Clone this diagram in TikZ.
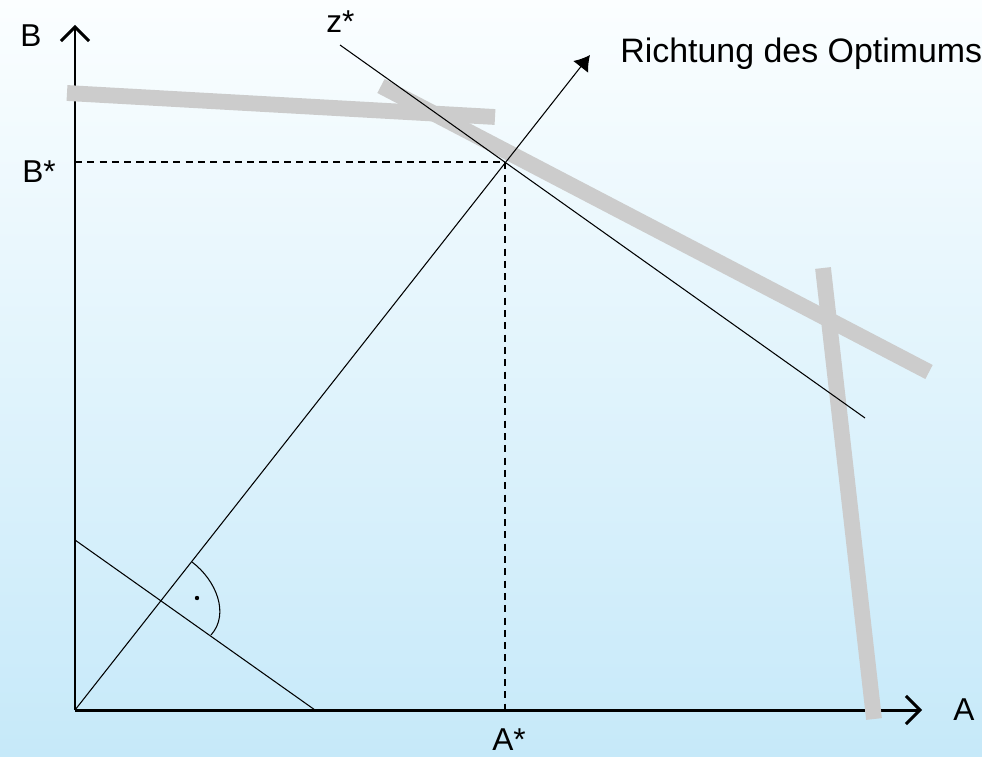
\documentclass[tikz,border=0pt]{standalone}
\usepackage{fontspec}
\setmainfont{Liberation Sans}
\definecolor{BarGray}{HTML}{CCCCCC}
\definecolor{SkyTop}{HTML}{FBFEFF}
\definecolor{SkyBottom}{HTML}{C6E9F9}
\usetikzlibrary{arrows.meta,positioning,calc}
\tikzset{
  axisline/.style={line width=1.7pt, -{Straight Barb[length=2.8mm, width=5.6mm]}},
  helpline/.style={line width=0.6pt, dash pattern=on 4pt off 3pt},
  bar/.style={draw=BarGray, line width=9pt},
  thinline/.style={line width=0.6pt},
  optarrow/.style={line width=0.6pt, -{Latex[length=3mm, width=3.8mm]}},
  lbl/.style={inner sep=0pt, font=\fontsize{18}{22}\selectfont}
}

\begin{document}
\begin{tikzpicture}[x=0.02cm, y=-0.02cm]
% background
\shade[top color=SkyTop, bottom color=SkyBottom] (0,0) rectangle (982,756);
\useasboundingbox (0,0) rectangle (982,756);

\coordinate (O) at (75,710);
\coordinate (Ytip) at (75,25);
\coordinate (Xtip) at (922,710);
\coordinate (P) at (505,162);
\coordinate (Bs) at (75,162);
\coordinate (As) at (505,710);
\coordinate (D) at (590,55);
\coordinate (Z1) at (340,45);
\coordinate (Z2) at (865,418);
\coordinate (Q1) at (75,540);
\coordinate (Q2) at (315,710);
\coordinate (R1) at (192,562);
\coordinate (R2) at (211,635);

% dashed guides to the optimum
\draw[helpline] (Bs) -- (P) -- (As);

% axes
\draw[axisline] (O) -- (Ytip);
\draw[axisline] (O) -- (Xtip);

% restrictions
\coordinate (G1a) at (67,93);
\coordinate (G1b) at (495,117);
\coordinate (G2a) at (381,86);
\coordinate (G2b) at (929,372);
\coordinate (G3a) at (823,268);
\coordinate (G3b) at (874,719);
\draw[bar] (G1a) -- (G1b);
\draw[bar] (G2a) -- (G2b);
\draw[bar] (G3a) -- (G3b);

\draw[optarrow] (O) -- (D);
\draw[thinline] (Z1) -- (Z2);
\draw[thinline] (Q1) -- (Q2);

% right angle
\draw[thinline] (R1) .. controls (216,580) and (230,614) .. (R2);
\fill (197,598) circle (2.2);

\node[lbl, anchor=base west] (labB) at (20,47) {B};
\node[lbl, anchor=base west] (labBs) at (22,183) {B*};
\node[lbl, anchor=base west] (labA) at (953,720) {A};
\node[lbl, anchor=base west] (labAs) at (492,750) {A*};
\node[lbl, anchor=base west] (labZ) at (326,33) {z*};
\node[lbl, anchor=base west, font=\fontsize{19.3}{23}\selectfont] (labDir) at (620,63) {Richtung des Optimums};
\end{tikzpicture}
\end{document}
